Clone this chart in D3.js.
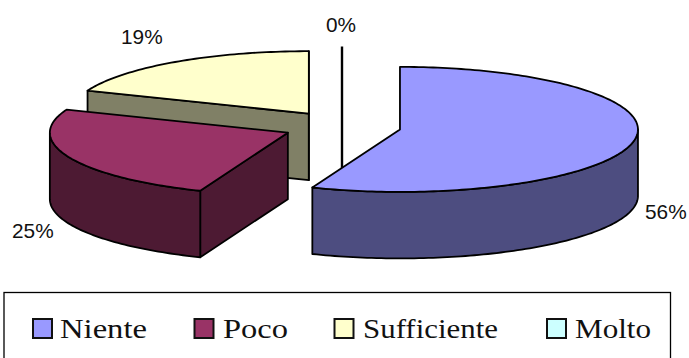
<!DOCTYPE html>
<html>
<head>
<meta charset="utf-8">
<script src="https://cdn.jsdelivr.net/npm/d3@7"></script>
<style>
html, body { margin: 0; padding: 0; background: #fff; }
svg { display: block; }
.pct { font: 20.8px "Liberation Sans", Arial, sans-serif; fill: #111; }
.leg { font: 28px "Liberation Serif", serif; fill: #111; }
</style>
</head>
<body>
<svg id="chart" width="689" height="358"></svg>
<script>
// Survey answers and their shares in percent
const categories = ["Niente", "Poco", "Sufficiente", "Molto"];
const shares = [56, 25, 19, 0];
const topColours = ["#9999FF", "#993366", "#FFFFCC", "#CCFFFF"];
const sideColours = ["#4D4D80", "#4D1A33", "#808066", "#668080"];

// Flattened-disc geometry of the exploded pie
const centreX = 342, centreY = 126.5;
const radiusX = 238, radiusY = 62.5;
const explode = 59;      // radial slice offset, in units of radiusX
const depth = 66.5;      // wall height
const outline = 1.8;

// Label anchors (left edge, baseline)
const labelAnchors = [[645, 219], [12, 238], [121, 44], [326, 32]];
const legendSwatchX = [33, 194.5, 334.5, 547];
const legendTextX = [60, 223, 363, 575];
const legendTextWidth = [87, 65, 135, 76];

const svg = d3.select("#chart");

const slices = d3.pie().sort(null).startAngle(0).endAngle(2 * Math.PI)(shares)
  .map((d, i) => ({ ...d, i }));

const sx = d3.scaleLinear().domain([-1, 1]).range([-radiusX, radiusX]);
const sy = d3.scaleLinear().domain([-1, 1]).range([-radiusY, radiusY]);
const path = d3.line().x(p => p[0]).y(p => p[1]);

// Projects a polar position (clockwise from north) onto the tilted disc
function apex(d) {
  const mid = d.startAngle === d.endAngle ? 0 : (d.startAngle + d.endAngle) / 2;
  const off = explode / radiusX;
  return [centreX + sx(off * Math.sin(mid)), centreY - sy(off * Math.cos(mid))];
}
function rim(d, a) {
  const o = apex(d);
  return [o[0] + sx(Math.sin(a)), o[1] - sy(Math.cos(a))];
}
function arcPoints(d, a0, a1) {
  const n = Math.max(1, Math.ceil((a1 - a0) / 0.02));
  return d3.range(n + 1).map(k => rim(d, a0 + (a1 - a0) * k / n));
}
const drop = p => [p[0], p[1] + depth];

function wall(points, fill) {
  const ring = points.concat(points.slice().reverse().map(drop));
  svg.append("path")
    .attr("d", path(ring) + "Z")
    .attr("fill", fill)
    .attr("stroke", "#000")
    .attr("stroke-width", outline)
    .attr("stroke-linejoin", "round");
}

// Back slices first, so that nearer ones cover them
[3, 2, 1, 0].forEach(idx => {
  const d = slices[idx];
  const o = apex(d);
  const side = sideColours[idx];

  if (d.startAngle === d.endAngle) {
    // An empty slice collapses to a single line on the disc
    const tip = rim(d, d.startAngle);
    svg.append("line")
      .attr("x1", tip[0]).attr("y1", tip[1] - 2)
      .attr("x2", o[0]).attr("y2", o[1] + depth)
      .attr("stroke", "#000").attr("stroke-width", 2.4);
    return;
  }

  // Radial walls that face the viewer
  if (Math.sin(d.startAngle) < 0) wall([o, rim(d, d.startAngle)], side);
  if (Math.sin(d.endAngle) > 0) wall([o, rim(d, d.endAngle)], side);

  // Outer wall: only the part of the rim on the near half of the disc
  const a0 = Math.max(d.startAngle, Math.PI / 2);
  const a1 = Math.min(d.endAngle, 3 * Math.PI / 2);
  if (a1 > a0) wall(arcPoints(d, a0, a1), side);

  // Top face
  svg.append("path")
    .attr("d", path([o, ...arcPoints(d, d.startAngle, d.endAngle)]) + "Z")
    .attr("fill", topColours[idx])
    .attr("stroke", "#000")
    .attr("stroke-width", outline)
    .attr("stroke-linejoin", "round");
});

// Percentage labels
svg.selectAll("text.pct").data(slices).join("text")
  .attr("class", "pct")
  .attr("x", d => labelAnchors[d.i][0])
  .attr("y", d => labelAnchors[d.i][1])
  .text(d => d.data + "%");

// Legend
svg.append("rect")
  .attr("x", 4).attr("y", 292.5).attr("width", 666.5).attr("height", 80)
  .attr("fill", "#fff").attr("stroke", "#000").attr("stroke-width", 1.3);

categories.forEach((c, i) => {
  svg.append("rect")
    .attr("x", legendSwatchX[i]).attr("y", 319)
    .attr("width", 19).attr("height", 19)
    .attr("fill", topColours[i]).attr("stroke", "#111").attr("stroke-width", 2);
  svg.append("text")
    .attr("class", "leg")
    .attr("x", legendTextX[i]).attr("y", 338)
    .attr("textLength", legendTextWidth[i])
    .attr("lengthAdjust", "spacingAndGlyphs")
    .text(c);
});
</script>
</body>
</html>
